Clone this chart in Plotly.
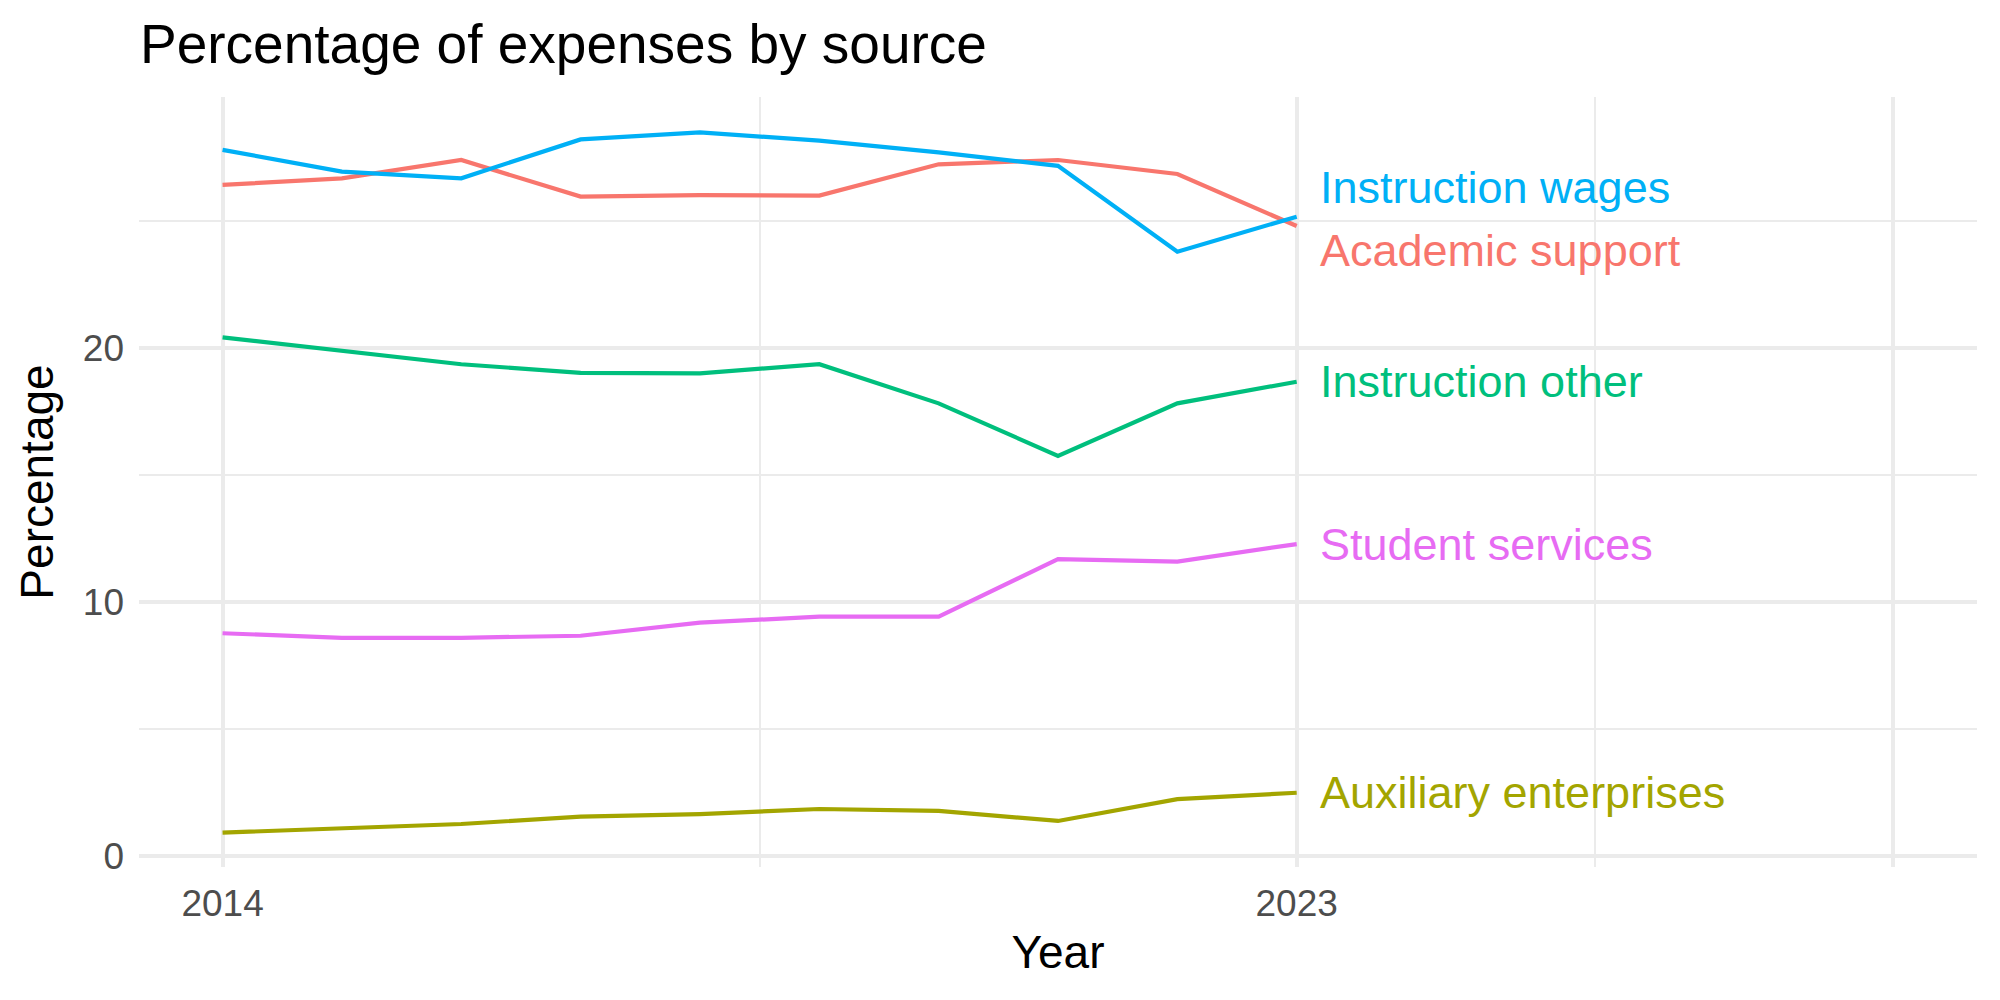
import plotly.graph_objects as go

years = [2014, 2015, 2016, 2017, 2018, 2019, 2020, 2021, 2022, 2023]

academic_support = [26.42, 26.68, 27.40, 25.96, 26.02, 26.00, 27.23, 27.40, 26.85, 24.80]
auxiliary_enterprises = [0.92, 1.09, 1.26, 1.55, 1.65, 1.85, 1.78, 1.38, 2.24, 2.49]
instruction_other = [20.42, 19.90, 19.36, 19.02, 19.00, 19.36, 17.82, 15.75, 17.82, 18.67]
instruction_wages = [27.80, 26.94, 26.68, 28.21, 28.49, 28.16, 27.70, 27.17, 23.79, 25.17]
student_services = [8.77, 8.59, 8.59, 8.67, 9.19, 9.42, 9.42, 11.69, 11.59, 12.28]

series_names = ["Academic support", "Auxiliary enterprises", "Instruction other",
                "Instruction wages", "Student services"]
series_values = [academic_support, auxiliary_enterprises, instruction_other,
                 instruction_wages, student_services]
colors = ["#F8766D", "#A3A500", "#00BF7D", "#00B0F6", "#E76BF3"]

# label repel offsets (in data units) to avoid overlap
label_nudge = {"Academic support": -0.95, "Instruction wages": 1.13}

x_ticks = [2014, 2023, 2028]
x_tick_text = ["2014", "2023", ""]
x_minor = [2018.5, 2025.5]
y_ticks = [0, 10, 20]
y_minor = [5, 15, 25]

FONT = "Liberation Sans, Arial, Helvetica, sans-serif"

fig = go.Figure()
for name, vals, col in zip(series_names, series_values, colors):
    fig.add_trace(go.Scatter(x=years, y=vals, mode="lines", name=name,
                             line=dict(color=col, width=4.2), showlegend=False))
    fig.add_annotation(x=years[-1] + 0.18, y=vals[-1] + label_nudge.get(name, 0),
                       text=name, showarrow=False, xanchor="left", yanchor="middle",
                       font=dict(family=FONT, size=45, color=col))

fig.update_layout(
    width=2000, height=1000,
    margin=dict(l=139, r=23, t=97, b=133),
    paper_bgcolor="white", plot_bgcolor="white",
    font=dict(family=FONT),
    title=dict(text="Percentage of expenses by source", xref="container", x=0.07,
               xanchor="left", yref="container", y=1 - 44 / 1000, yanchor="middle",
               font=dict(family=FONT, size=55, color="black")),
    xaxis=dict(range=[2013.3, 2028.7], tickmode="array", tickvals=x_ticks, ticktext=x_tick_text,
               showgrid=True, gridcolor="#EBEBEB", gridwidth=4, zeroline=False, showline=False,
               ticks="", tickfont=dict(family=FONT, size=37, color="#4D4D4D"),
               ticklabelstandoff=11,
               minor=dict(tickmode="array", tickvals=x_minor, showgrid=True,
                          gridcolor="#EBEBEB", gridwidth=2),
               title=dict(text="Year", font=dict(family=FONT, size=46, color="black"), standoff=12)),
    yaxis=dict(range=[-0.433, 29.88], tickmode="array", tickvals=y_ticks,
               showgrid=True, gridcolor="#EBEBEB", gridwidth=4, zeroline=False, showline=False,
               ticks="", tickfont=dict(family=FONT, size=37, color="#4D4D4D"),
               ticklabelstandoff=14,
               minor=dict(tickmode="array", tickvals=y_minor, showgrid=True,
                          gridcolor="#EBEBEB", gridwidth=2),
               title=dict(text="Percentage", font=dict(family=FONT, size=46, color="black"), standoff=14)),
)

fig.write_html("out.html")
